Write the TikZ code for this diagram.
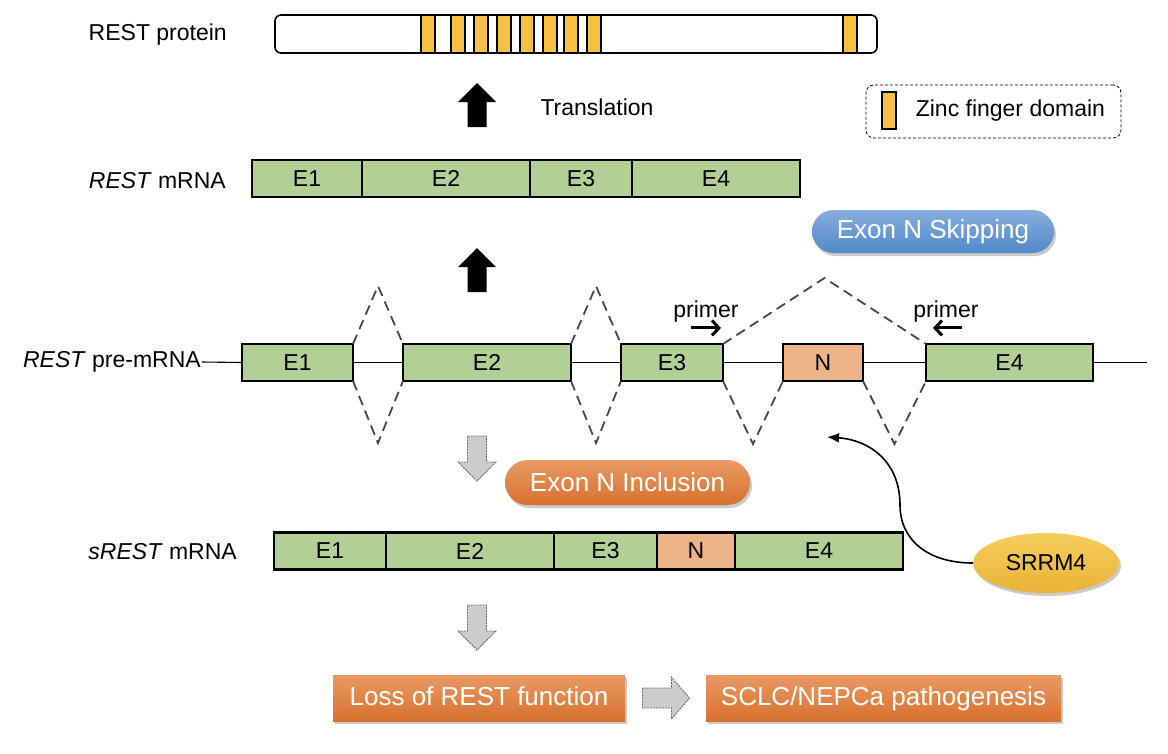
\documentclass[tikz,border=0pt]{standalone}
\usepackage{fontspec}
\setmainfont{Liberation Sans}
\usetikzlibrary{shapes.misc,shapes.geometric,shadows,calc,chains,positioning,arrows.meta}

\definecolor{exongreen}{HTML}{B2D096}
\definecolor{exonsalmon}{HTML}{EDB48A}
\definecolor{zincyellow}{HTML}{F6C143}
\definecolor{bluetop}{HTML}{86AEDD}
\definecolor{bluebot}{HTML}{5189C9}
\definecolor{orangetop}{HTML}{E99A64}
\definecolor{orangebot}{HTML}{D8702E}
\definecolor{yellowtop}{HTML}{F7CD5E}
\definecolor{yellowbot}{HTML}{E8B336}

\tikzset{
	bigup/.pic={\fill (0,0) -- (19,19) -- (9.5,19) -- (9.5,44) -- (-9.5,44) -- (-9.5,19) -- (-19,19) -- cycle;},
	greydown/.pic={\draw[greyarrow] (-9.5,0) -- (9.5,0) -- (9.5,26) -- (19,26) -- (0,45) -- (-19,26) -- (-9.5,26) -- cycle;},
	greyright/.pic={\draw[greyarrow] (0,-10) -- (29,-10) -- (29,-21) -- (47,0) -- (29,21) -- (29,10) -- (0,10) -- cycle;}
}

\begin{document}
\begin{tikzpicture}[x=1pt,y=-1pt,
		txt/.style={font=\fontsize{23}{27}\selectfont,inner sep=1pt},
		exon/.style={txt,draw,line width=2.4pt,fill=exongreen,minimum height=37,inner sep=0pt,outer sep=0pt},
		exonN/.style={exon,fill=exonsalmon},
		splice/.style={draw=black!72,line width=1.8pt,dash pattern=on 10pt off 6pt},
		greyarrow/.style={fill=black!20,draw=black!60,line width=0.8pt,dash pattern=on 2pt off 1pt},
		shade/.style={drop shadow={shadow xshift=2pt,shadow yshift=-3pt,opacity=.35,fill=black!60}},
		pill/.style={rounded rectangle,shade,top color=#1top,bottom color=#1bot,text=white,font=\fontsize{26}{30}\selectfont,inner sep=0pt},
		result/.style={rectangle,shade,top color=orangetop,bottom color=orangebot,text=white,font=\fontsize{26}{30}\selectfont,minimum height=46,inner sep=0pt,text depth=3pt},
		primer/.style={line width=3pt,-{Straight Barb[length=7pt,width=15pt,line width=3pt]}}]
	\useasboundingbox (0,0) rectangle (1168,753);

	% protein
	\node[txt,anchor=east] (protlbl) at (228,35) {REST protein};
	\node[draw,line width=1.6pt,rounded corners=6pt,minimum width=602,minimum height=38,inner sep=0pt] (protein) at (576,34) {};
	\foreach \x in {421,451,474,497,520,543,564,587,843}
		\draw[fill=zincyellow,line width=1.6pt] (\x,15) rectangle ++(14,38);
	% legend
	\node[draw,line width=0.8pt,dash pattern=on 3pt off 2pt,rounded corners=8pt,minimum width=255,minimum height=53] (legend) at (993.5,111.5) {};
	\node[draw,line width=1.2pt,fill=zincyellow,minimum width=14,minimum height=37,inner sep=0pt] (zkey) at (889,110.5) {};
	\node[txt,right=18pt of zkey] (zlbl) {Zinc finger domain};

	\pic at (477,83) {bigup};
	\node[txt] (transl) at (597,107) {Translation};

	% REST mRNA
	\node[txt,anchor=east] (mlbl) at (227,181) {\textit{REST} mRNA};
	\begin{scope}[start chain=mrna going right,node distance=0pt]
		\node[on chain=mrna,exon,minimum width=110,anchor=west] (m1) at (252,178.5) {E1};
		\node[on chain=mrna,exon,minimum width=168] (m2) {E2};
		\node[on chain=mrna,exon,minimum width=102] (m3) {E3};
		\node[on chain=mrna,exon,minimum width=168] (m4) {E4};
	\end{scope}

	\node[pill=blue,minimum width=242,minimum height=43] (skip) at (933,231.5) {Exon N Skipping};
	\pic at (477,248) {bigup};

	% pre-mRNA
	\node[txt,anchor=east] (prelbl) at (202,362) {\textit{REST} pre-mRNA};
	\node[exon,minimum width=111,anchor=west] (p1) at (242,362.5) {E1};
	\node[exon,minimum width=168,right=50pt of p1] (p2) {E2};
	\node[exon,minimum width=102,right=50pt of p2] (p3) {E3};
	\node[exonN,minimum width=80,right=60pt of p3] (pN) {N};
	\node[exon,minimum width=167,right=63pt of pN] (p4) {E4};
	\coordinate (pend) at (1147,362.5);
	\foreach \a/\b in {prelbl/p1,p1/p2,p2/p3,p3/pN,pN/p4}
		\draw[line width=1.1pt] (\a.east) -- (\b.west);
	\draw[line width=1.1pt] (p4.east) -- (pend);

	\foreach \a/\b in {p1/p2,p2/p3} {
		\draw[splice] (\a.north east) -- ($(\a.north east)!.5!(\b.north west)+(0,-58)$) -- (\b.north west);
		\draw[splice] (\a.south east) -- ($(\a.south east)!.5!(\b.south west)+(0,62)$) -- (\b.south west);
	}
	\foreach \a/\b in {p3/pN,pN/p4}
		\draw[splice] (\a.south east) -- ($(\a.south east)!.5!(\b.south west)+(0,63)$) -- (\b.south west);
	\draw[splice] (p3.north east) -- ($(p3.north east)!.5!(p4.north west)+(0,-66)$) -- (p4.north west);

	\node[txt] (pr1) at (706,312) {primer};
	\node[txt] (pr2) at (946,312) {primer};
	\draw[primer] ($(pr1.south)+(-15,4)$) -- +(30,0);
	\draw[primer] ($(pr2.south)+(16,4)$) -- +(-29,0);

	% inclusion
	\pic at (477,436) {greydown};
	\node[pill=orange,minimum width=245,minimum height=45] (incl) at (627.5,482.5) {Exon N Inclusion};

	\node[ellipse,shade,top color=yellowtop,bottom color=yellowbot,minimum width=146,minimum height=60,inner sep=0pt,txt] (srrm) at (1046,563) {SRRM4};
	\coordinate (ntarget) at (827,437);
	\draw[line width=1.6pt,-{Latex[length=12pt,width=10pt]}] (srrm.west) .. controls (928,563) and (900,540) .. (900,505) .. controls (900,462) and (870,440) .. (ntarget);

	% sREST mRNA
	\node[txt,anchor=east] (slbl) at (238,552) {\textit{sREST} mRNA};
	\begin{scope}[start chain=smrna going right,node distance=0pt]
		\node[on chain=smrna,exon,minimum width=112,anchor=west] (s1) at (274,551) {E1};
		\node[on chain=smrna,exon,minimum width=168] (s2) {E2};
		\node[on chain=smrna,exon,minimum width=103] (s3) {E3};
		\node[on chain=smrna,exonN,minimum width=78] (sN) {N};
		\node[on chain=smrna,exon,minimum width=168] (s4) {E4};
	\end{scope}

	\pic at (477,605) {greydown};
	\node[result,minimum width=292] (loss) at (479,698) {Loss of REST function};
	\node[result,minimum width=355] (sclc) at (883.5,698) {SCLC/NEPCa pathogenesis};
	\pic at ($(loss.east)!.5!(sclc.west)+(-23,0)$) {greyright};
\end{tikzpicture}
\end{document}
